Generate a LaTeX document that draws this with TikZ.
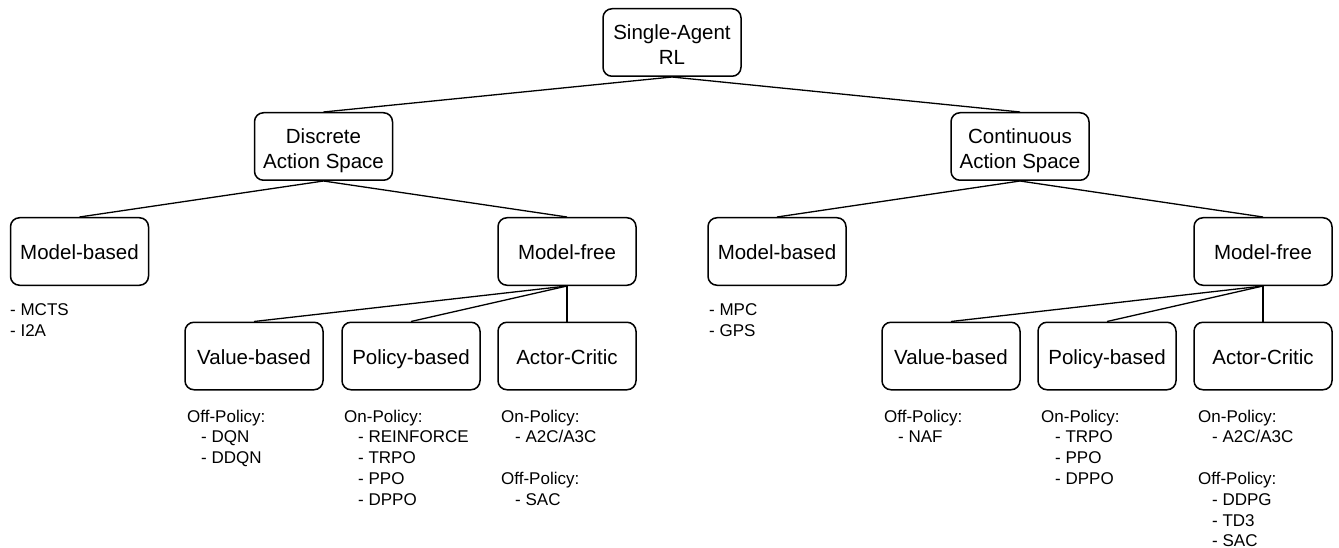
\documentclass[tikz,border=0pt]{standalone}
\usepackage{fontspec}
\setmainfont{Liberation Sans}
\newcommand\itemgap{\hspace*{14pt}}
\begin{document}
\begin{tikzpicture}[x=1pt,y=-1pt,
  box/.style={draw, line width=1.5pt, rounded corners=9pt,
    minimum width=138pt, minimum height=67.5pt, inner sep=0pt,
    align=center, font=\fontsize{20.5}{24.6}\selectfont,
    text height=16.7pt, text depth=0pt},
  twoline/.style={text height=43.3pt, text depth=0pt},
  list/.style={anchor=north west, inner sep=0pt, align=left,
    font=\fontsize{17}{20.8}\selectfont},
  link/.style={line width=1.3pt}]
\useasboundingbox (0,0) rectangle (1339,548);

% tree nodes
\node[box,twoline] (root) at (672,42.5) {Single-Agent\\RL};
\node[box,twoline] (disc) at (323.5,146.5) {Discrete\\Action Space};
\node[box,twoline] (cont) at (1020,146.5) {Continuous\\Action Space};
\node[box] (mbL) at (79.5,251.5) {Model-based};
\node[box] (mfL) at (567,251.5) {Model-free};
\node[box] (mbR) at (777,251.5) {Model-based};
\node[box] (mfR) at (1263,251.5) {Model-free};
\node[box] (vbL) at (254,356) {Value-based};
\node[box] (pbL) at (411,356) {Policy-based};
\node[box] (acL) at (567,356) {Actor-Critic};
\node[box] (vbR) at (951,356) {Value-based};
\node[box] (pbR) at (1107,356) {Policy-based};
\node[box] (acR) at (1263,356) {Actor-Critic};

% connectors
\draw[link] (root.south) -- (disc.north);
\draw[link] (root.south) -- (cont.north);
\draw[link] (disc.south) -- (mbL.north);
\draw[link] (disc.south) -- (mfL.north);
\draw[link] (cont.south) -- (mbR.north);
\draw[link] (cont.south) -- (mfR.north);
\draw[link] (mfL.south) -- (vbL.north);
\draw[link] (mfL.south) -- (pbL.north);
\draw[link] (mfL.south) -- (acL.north);
\draw[link] (mfR.south) -- (vbR.north);
\draw[link] (mfR.south) -- (pbR.north);
\draw[link] (mfR.south) -- (acR.north);

% algorithm lists
\node[list] (lmbL) at (10,303.5) {- MCTS\\- I2A};
\node[list] (lvbL) at (187,409.5) {Off-Policy:\\\itemgap- DQN\\\itemgap- DDQN};
\node[list] (lpbL) at (344,409.5) {On-Policy:\\\itemgap- REINFORCE\\\itemgap- TRPO\\\itemgap- PPO\\\itemgap- DPPO};
\node[list] (lacL) at (501,409.5) {On-Policy:\\\itemgap- A2C/A3C\\[20.8pt]Off-Policy:\\\itemgap- SAC};
\node[list] (lmbR) at (709,303.5) {- MPC\\- GPS};
\node[list] (lvbR) at (884,409.5) {Off-Policy:\\\itemgap- NAF};
\node[list] (lpbR) at (1041,409.5) {On-Policy:\\\itemgap- TRPO\\\itemgap- PPO\\\itemgap- DPPO};
\node[list] (lacR) at (1198,409.5) {On-Policy:\\\itemgap- A2C/A3C\\[20.8pt]Off-Policy:\\\itemgap- DDPG\\\itemgap- TD3\\\itemgap- SAC};
\end{tikzpicture}
\end{document}
